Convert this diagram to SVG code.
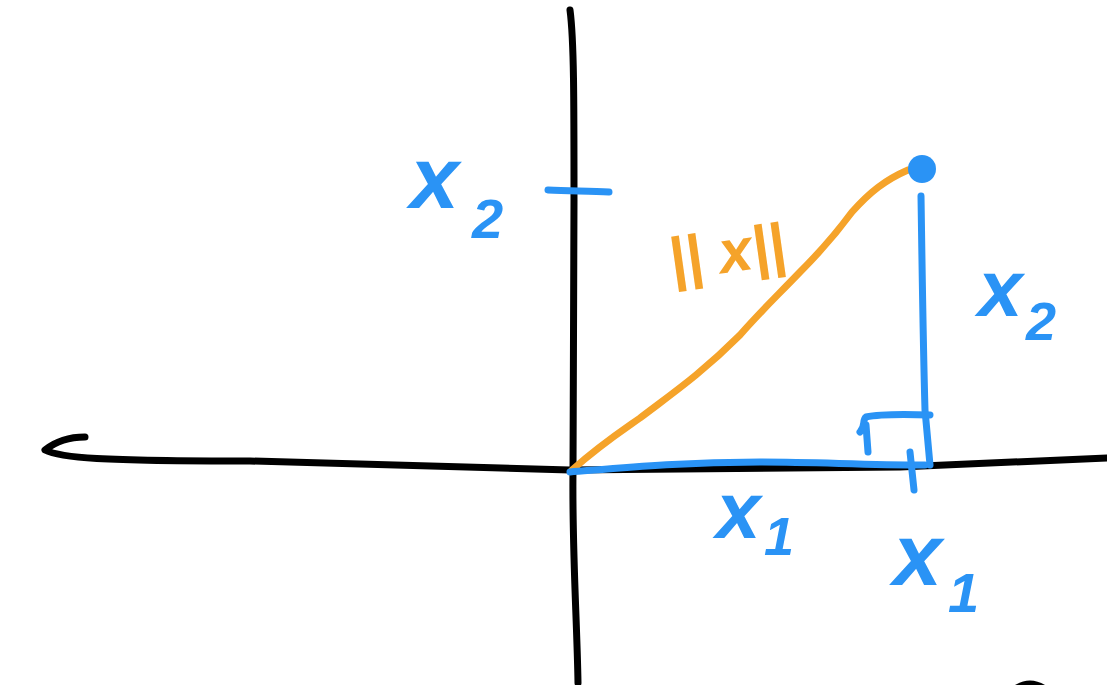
<svg xmlns="http://www.w3.org/2000/svg" width="1107" height="685" viewBox="0 0 1107 685">
<style>
.ax{fill:none;stroke:#000;stroke-width:7;stroke-linecap:round;stroke-linejoin:round}
.bl{fill:none;stroke:#2a93f5;stroke-width:7;stroke-linecap:round;stroke-linejoin:round}
.or{fill:none;stroke:#f5a32a;stroke-width:7;stroke-linecap:round;stroke-linejoin:round}
.tb{fill:#2a93f5;font-family:"Liberation Sans",sans-serif;font-style:italic;font-weight:bold}
.to{fill:#f5a32a;font-family:"Liberation Sans",sans-serif;font-style:italic;font-weight:bold}
</style>
<rect width="1107" height="685" fill="#fff"/>
<g id="axes">
<path class="ax" d="M570,10 C574,40 574,100 574,200 L573,470 C572,550 577,620 578,683"/>
<path class="ax" d="M85,437 C70,437 55,442 45,450 C60,458 100,461 250,461 L570,470 L900,467 L1107,458"/>
<path d="M1015,685 Q1030,676 1045,685 Z" fill="#000"/>
</g>
<g id="connectors">
<path class="or" d="M572,470 C600,445 620,432 640,418 C670,395 700,375 740,335 C760,312 775,298 800,272 C820,252 835,235 852,212 C870,192 885,180 908,170"/>
<path class="bl" d="M570,472 C620,468 680,462 760,462 C820,462 860,465 925,465"/>
<path class="bl" d="M921,196 C922,260 923,340 925,410 L930,465"/>
<path class="bl" d="M930,415 C900,414 880,414 866,417 C862,420 866,426 860,432 M866,425 L868,452"/>
<path class="bl" d="M910,452 L914,490"/>
<path class="bl" d="M548,190 C570,191 590,191 609,192"/>
</g>
<g id="point"><circle cx="922" cy="169" r="14" fill="#2a93f5"/></g>
<g id="label-x2-axis"><text class="tb" x="410" y="208" font-size="88">x</text><text class="tb" x="472" y="238" font-size="56">2</text></g>
<g id="label-norm"><text class="to" x="668" y="272" font-size="60" transform="rotate(-8 730 250)">|| x||</text></g>
<g id="label-x2-side"><text class="tb" x="978" y="316" font-size="80">x</text><text class="tb" x="1026" y="340" font-size="54">2</text></g>
<g id="label-x1-side"><text class="tb" x="716" y="538" font-size="80">x</text><text class="tb" x="764" y="555" font-size="54">1</text></g>
<g id="label-x1-axis"><text class="tb" x="893" y="585" font-size="88">x</text><text class="tb" x="948" y="612" font-size="56">1</text></g>
</svg>
